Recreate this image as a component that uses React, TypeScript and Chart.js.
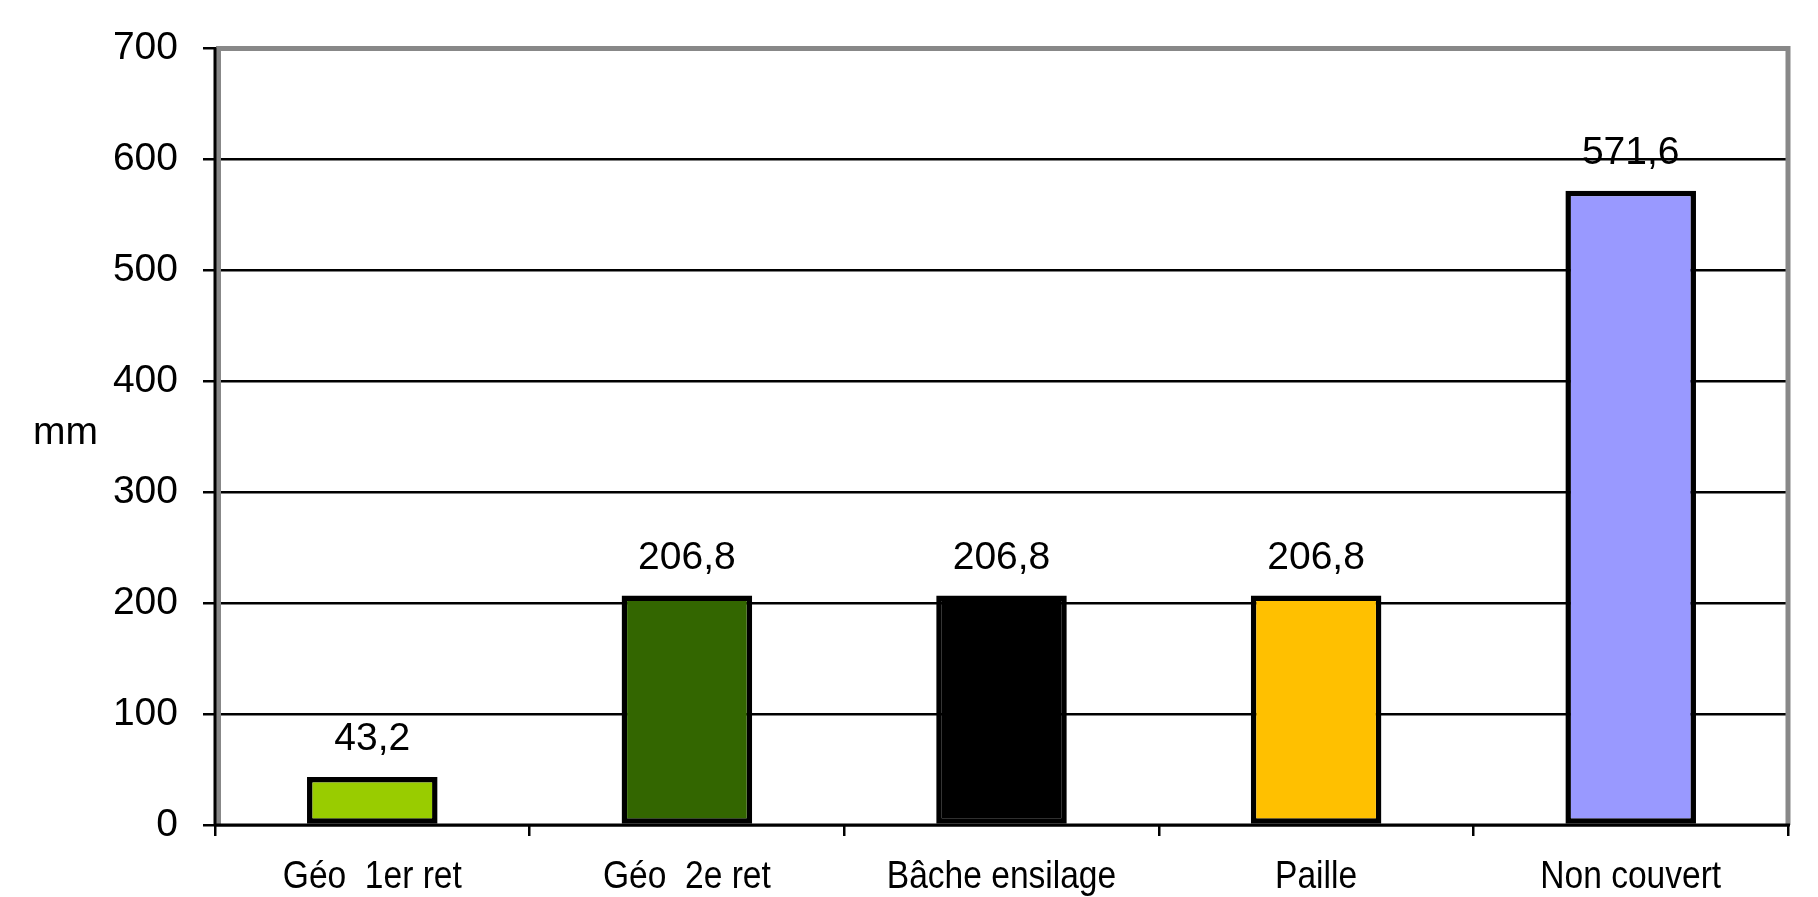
import React, { useEffect, useRef } from "react";
import { Chart, registerables } from "chart.js";

Chart.register(...registerables);

const categories = ["Géo  1er ret", "Géo  2e ret", "Bâche ensilage", "Paille", "Non couvert"];
const values = [43.2, 206.8, 206.8, 206.8, 571.6];
const valueLabels = ["43,2", "206,8", "206,8", "206,8", "571,6"];
const barColors = ["#99CC00", "#336600", "#000000", "#FFC000", "#9999FF"];
const yTicks = [0, 100, 200, 300, 400, 500, 600, 700];
const yTitle = "mm";

const FONT = "'Liberation Sans', Arial, Helvetica, sans-serif";

const overlayPlugin = {
  id: "overlay",
  afterDraw(chart: any) {
    const { ctx, chartArea } = chart;
    const { left, right, top, bottom } = chartArea;
    ctx.save();
    // gray frame
    ctx.strokeStyle = "#888888";
    ctx.lineWidth = 5;
    ctx.beginPath();
    ctx.moveTo(left + 3.5, bottom);
    ctx.lineTo(left + 3.5, top);
    ctx.lineTo(right, top);
    ctx.lineTo(right, bottom);
    ctx.stroke();
    // black axes
    ctx.strokeStyle = "#000000";
    ctx.lineWidth = 3;
    ctx.beginPath();
    ctx.moveTo(left, top - 1);
    ctx.lineTo(left, bottom + 1);
    ctx.moveTo(left, bottom);
    ctx.lineTo(right + 2, bottom);
    ctx.stroke();
    // y title
    ctx.fillStyle = "#000";
    ctx.font = `39px ${FONT}`;
    ctx.textAlign = "left";
    ctx.textBaseline = "middle";
    ctx.fillText(yTitle, 33, (top + bottom) / 2 - 3);
    // data labels
    const meta = chart.getDatasetMeta(0);
    ctx.textAlign = "center";
    ctx.textBaseline = "alphabetic";
    meta.data.forEach((bar: any, i: number) => {
      ctx.fillText(valueLabels[i], bar.x, bar.y - 27);
    });
    // x category labels (condensed)
    const xs = chart.scales.x;
    categories.forEach((label, i) => {
      const x = xs.getPixelForTick(i);
      ctx.save();
      ctx.translate(x, 888);
      ctx.scale(0.86, 1);
      ctx.fillText(label, 0, 0);
      ctx.restore();
    });
    ctx.restore();
  },
};

export default function App() {
  const ref = useRef<HTMLCanvasElement | null>(null);
  useEffect(() => {
    if (!ref.current) return;
    const chart = new Chart(ref.current, {
      type: "bar",
      data: {
        labels: categories,
        datasets: [
          {
            data: values,
            backgroundColor: barColors,
            borderColor: "#000000",
            borderWidth: 5.5,
            borderSkipped: false,
            categoryPercentage: 1,
            barPercentage: 0.415,
          },
        ],
      },
      options: {
        animation: false,
        responsive: true,
        maintainAspectRatio: false,
        layout: { padding: { left: 0, right: 30, top: 48, bottom: 0 } },
        plugins: {
          legend: { display: false },
          tooltip: { enabled: false },
          title: { display: false },
        },
        scales: {
          x: {
            grid: {
              display: true,
              drawOnChartArea: false,
              drawTicks: true,
              tickLength: 11,
              color: "#000000",
              lineWidth: 2.5,
              offset: true,
            },
            border: { display: false },
            ticks: {
              display: false,
              autoSkip: false,
            },
            afterFit: (scale: any) => {
              scale.height = 72;
            },
          },
          y: {
            min: 0,
            max: 700,
            afterBuildTicks: (scale: any) => {
              scale.ticks = yTicks.map((v) => ({ value: v }));
            },
            grid: {
              color: "#000000",
              lineWidth: 2.5,
              drawTicks: true,
              tickLength: 12,
            },
            border: { display: false },
            ticks: {
              color: "#000000",
              font: { family: FONT, size: 39 },
              padding: 25,
            },
            afterFit: (scale: any) => {
              scale.width = 215;
            },
          },
        },
      },
      plugins: [overlayPlugin],
    });
    return () => chart.destroy();
  }, []);
  return (
    <div style={{ position: "absolute", left: 0, top: 0, width: 1818, height: 897, background: "#fff" }}>
      <canvas ref={ref} />
    </div>
  );
}
